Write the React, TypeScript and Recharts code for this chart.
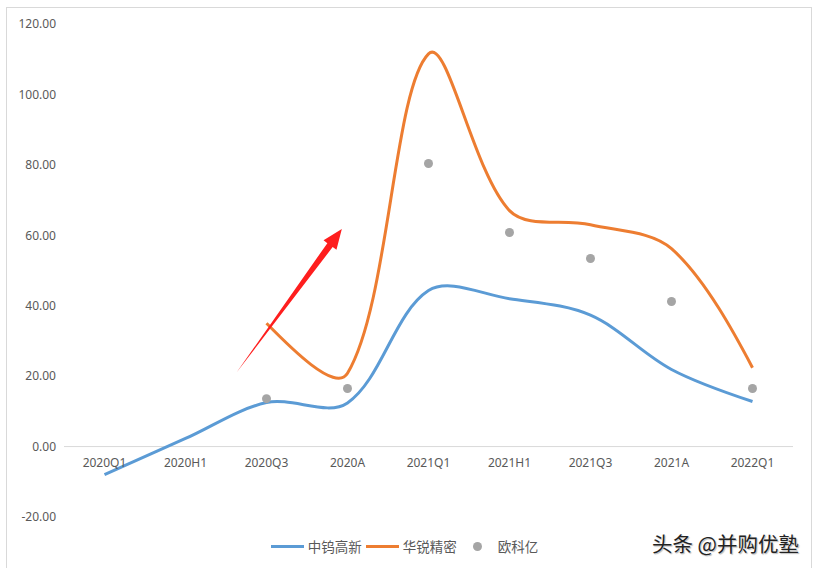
import React from "react";
import { ComposedChart, Line, XAxis, YAxis, ReferenceLine, Legend } from "recharts";

const categories = ["2020Q1", "2020H1", "2020Q3", "2020A", "2021Q1", "2021H1", "2021Q3", "2021A", "2022Q1"];
const zhongwu = [-8.0, 2.3, 12.5, 12.4, 44.3, 42.0, 37.3, 21.9, 12.8];
const huarui = [null, null, 35.0, 20.8, 111.5, 67.0, 63.0, 56.2, 22.4];
const oukeyi = [null, null, 13.6, 16.5, 80.4, 60.8, 53.4, 41.2, 16.5];
const yTicks = [-20, 0, 20, 40, 60, 80, 100, 120];

// red arrow annotation, x in category index units
const arrowFrom = { x: 1.63, y: 21 };
const arrowTo = { x: 2.93, y: 61.8 };

const series = [
  { name: "中钨高新", values: zhongwu, color: "#5b9bd5", kind: "line" },
  { name: "华锐精密", values: huarui, color: "#ed7d31", kind: "line" },
  { name: "欧科亿", values: oukeyi, color: "#a5a5a5", kind: "dot" },
];

const data = categories.map((c, i) => {
  const row: Record<string, any> = { name: c, idx: i };
  series.forEach((s) => (row[s.name] = s.values[i]));
  return row;
});

const xPad = { left: 40.5, right: 40.5 };

// Excel-like smoothing: cardinal bezier with chord-length weighted handles
function excelCurve(context: any) {
  let pts: number[][] = [];
  const t = 1 / 3;
  return {
    areaStart() {},
    areaEnd() {},
    lineStart() {
      pts = [];
    },
    point(x: number, y: number) {
      pts.push([+x, +y]);
    },
    lineEnd() {
      const n = pts.length;
      if (!n) return;
      const d = (a: number[], b: number[]) => Math.hypot(b[0] - a[0], b[1] - a[1]);
      const outH: number[][] = [];
      const inH: number[][] = [];
      for (let i = 0; i < n; i++) {
        const p = pts[i];
        const prev = pts[i - 1];
        const next = pts[i + 1];
        if (!prev || !next) {
          outH[i] = p;
          inH[i] = p;
          continue;
        }
        const dp = d(prev, p), dn = d(p, next);
        const sum = dp + dn || 1;
        const tx = next[0] - prev[0], ty = next[1] - prev[1];
        inH[i] = [p[0] - (tx * t * dp) / sum, p[1] - (ty * t * dp) / sum];
        outH[i] = [p[0] + (tx * t * dn) / sum, p[1] + (ty * t * dn) / sum];
      }
      context.moveTo(pts[0][0], pts[0][1]);
      for (let i = 0; i < n - 1; i++) {
        let c1 = outH[i];
        let c2 = inH[i + 1];
        // end segments: aim towards the neighbouring handle
        if (i === 0) c1 = [pts[0][0] + (c2[0] - pts[0][0]) / 3, pts[0][1] + (c2[1] - pts[0][1]) / 3];
        if (i + 1 === n - 1) c2 = [pts[n - 1][0] + (c1[0] - pts[n - 1][0]) / 3, pts[n - 1][1] + (c1[1] - pts[n - 1][1]) / 3];
        context.bezierCurveTo(c1[0], c1[1], c2[0], c2[1], pts[i + 1][0], pts[i + 1][1]);
      }
    },
  };
}

function Arrow(props: any) {
  const { x1, y1, x2, y2 } = props;
  const dx = x2 - x1;
  const dy = y2 - y1;
  const len = Math.hypot(dx, dy) || 1;
  const ux = dx / len, uy = dy / len;
  const px = -uy, py = ux;
  const headLen = 20, headW = 8, shaftW = 3.3;
  const bx = x2 - ux * headLen, by = y2 - uy * headLen;
  const pts = [
    [x1, y1],
    [bx + px * shaftW, by + py * shaftW],
    [bx + px * headW, by + py * headW],
    [x2, y2],
    [bx - px * headW, by - py * headW],
    [bx - px * shaftW, by - py * shaftW],
  ];
  return <polygon points={pts.map((p) => p.join(",")).join(" ")} fill="#fe1e1e" />;
}

const renderXTick = ({ x, y, payload }: any) => (
  <text key={payload.value} x={x} y={y - 50} textAnchor="middle" fill="#595959" fontSize={12}>
    {payload.value}
  </text>
);

const LegendBox = () => (
  <div style={{ display: "flex", justifyContent: "center", alignItems: "center", height: 20, paddingLeft: 16, fontSize: 13.5, color: "#595959", fontFamily: "'Noto Sans CJK SC', sans-serif" }}>
    {series.map((s) =>
      s.kind === "line" ? (
        <span key={s.name} style={{ display: "flex", alignItems: "center", marginRight: 4 }}>
          <span style={{ display: "inline-block", width: 33, height: 3, background: s.color, marginRight: 4 }} />
          {s.name}
        </span>
      ) : (
        <span key={s.name} style={{ display: "flex", alignItems: "center", marginLeft: 12 }}>
          <span style={{ display: "inline-block", width: 9, height: 9, borderRadius: "50%", background: s.color, marginRight: 16 }} />
          {s.name}
        </span>
      )
    )}
  </div>
);

export default function App() {
  return (
    <div style={{ position: "relative", width: 818, height: 568, overflow: "hidden", background: "#fff", fontFamily: "'Noto Sans', 'Noto Sans CJK SC', sans-serif" }}>
      <style>{"body{margin:0}"}</style>
      <div style={{ position: "absolute", left: 6, top: 7, width: 804, height: 600, border: "1px solid #d9d9d9" }} />
      <ComposedChart width={818} height={568} data={data} margin={{ top: 24, right: 25, bottom: 30, left: 0 }}>
        <XAxis
          dataKey="name"
          height={1}
          padding={xPad}
          axisLine={false}
          tickLine={false}
          tickSize={0}
          tickMargin={0}
          tick={renderXTick}
          interval={0}
        />
        <XAxis xAxisId="n" dataKey="idx" type="number" domain={[0, 8]} padding={xPad} allowDataOverflow hide />
        <YAxis
          width={64}
          domain={[-20, 120]}
          ticks={yTicks}
          interval={0}
          axisLine={false}
          tickLine={false}
          tickSize={0}
          tickMargin={8}
          tickFormatter={(v: number) => v.toFixed(2)}
          tick={{ fill: "#595959", fontSize: 12 }}
        />
        <ReferenceLine y={0} stroke="#d9d9d9" strokeWidth={1} />
        <Legend verticalAlign="bottom" content={<LegendBox />} wrapperStyle={{ bottom: 12 }} />
        {series.map((s) =>
          s.kind === "line" ? (
            <Line
              key={s.name}
              dataKey={s.name}
              type={excelCurve as any}
              stroke={s.color}
              strokeWidth={3}
              dot={false}
              activeDot={false}
              isAnimationActive={false}
            />
          ) : (
            <Line
              key={s.name}
              dataKey={s.name}
              stroke="none"
              dot={{ r: 4.5, fill: s.color, stroke: "none" }}
              activeDot={false}
              isAnimationActive={false}
            />
          )
        )}
        <ReferenceLine xAxisId="n" segment={[arrowFrom, arrowTo]} shape={<Arrow />} />
      </ComposedChart>
      <div style={{ position: "absolute", left: 652, top: 528, fontSize: 20.5, color: "#222", fontFamily: "'Noto Sans CJK SC', sans-serif", textShadow: "0 0 2px #fff, 1px 1px 1px #aaa" }}>
        头条 @并购优塾
      </div>
    </div>
  );
}
